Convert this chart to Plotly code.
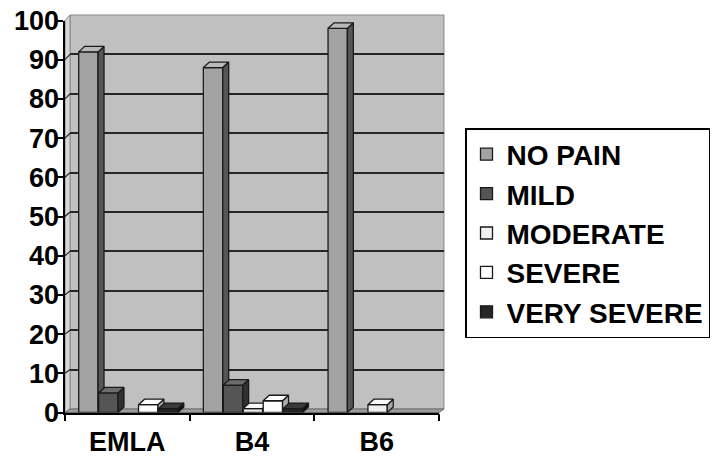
import plotly.graph_objects as go

# Pain scores (% of patients) per anaesthetic group
groups = ["EMLA", "B4", "B6"]
no_pain = [92, 88, 98]
mild = [5, 7, 0]
moderate = [0, 1, 2]
severe = [2, 3, 0]
very_severe = [1, 1, 0]

series_names = ["NO PAIN", "MILD", "MODERATE", "SEVERE", "VERY SEVERE"]
series_values = [no_pain, mild, moderate, severe, very_severe]
y_ticks = list(range(0, 101, 10))

# face colours per series: front, top, side
faces = [
    ("#a3a3a3", "#b9b9b9", "#555555"),
    ("#555555", "#6c6c6c", "#303030"),
    ("#f0f0f0", "#fafafa", "#a5a5a5"),
    ("#ffffff", "#ffffff", "#ababab"),
    ("#262626", "#3a3a3a", "#101010"),
]

W, H = 718, 459
def fx(px):
    return px / W
def fy(py):
    return 1 - py / H

FONT = "Liberation Sans, Arial, sans-serif"
EDGE = "#1a1a1a"
EDGE_W = 1.3

# bar geometry in category units
BAR_W = 0.155
STEP = 0.16
START = -0.39
DX = 0.048          # depth offset to the right (x units)
DY = 1.4            # depth offset upward (y units)

front_xdom = [fx(65), fx(439)]
front_ydom = [fy(412.5), fy(20.5)]
back_xdom = [fx(70), fx(444)]
back_ydom = [fy(409), fy(15)]

fig = go.Figure()

# placeholder so the back-wall subplot is always built
fig.add_trace(go.Scatter(x=[None], y=[None], xaxis="x", yaxis="y",
                         showlegend=False, hoverinfo="skip"))

for s, (name, vals) in enumerate(zip(series_names, series_values)):
    front, top, side = faces[s]
    xa = "x2" if s == 0 else "x" + str(s + 2)
    ya = "y2" if s == 0 else "y" + str(s + 2)
    off = START + STEP * s

    fig.add_trace(go.Bar(
        x=list(range(len(groups))),
        y=[v if v > 0 else None for v in vals],
        offset=off, width=BAR_W,
        marker=dict(color=front, line=dict(color=EDGE, width=EDGE_W)),
        name=name, legendgroup=name,
        xaxis=xa, yaxis=ya, hoverinfo="skip",
    ))

    sx, sy, tx, ty = [], [], [], []
    for c, v in enumerate(vals):
        if v <= 0:
            continue
        left = c + off
        right = left + BAR_W
        sx += [right, right + DX, right + DX, right, right, None]
        sy += [0, DY, v + DY, v, 0, None]
        tx += [left, right, right + DX, left + DX, left, None]
        ty += [v, v, v + DY, v + DY, v, None]

    fig.add_trace(go.Scatter(
        x=sx, y=sy, mode="lines", fill="toself", fillcolor=side,
        line=dict(color=EDGE, width=EDGE_W), showlegend=False,
        legendgroup=name, xaxis=xa, yaxis=ya, hoverinfo="skip",
    ))
    fig.add_trace(go.Scatter(
        x=tx, y=ty, mode="lines", fill="toself", fillcolor=top,
        line=dict(color=EDGE, width=EDGE_W), showlegend=False,
        legendgroup=name, xaxis=xa, yaxis=ya, hoverinfo="skip",
    ))

tickfont = dict(family=FONT, size=27, color="black", weight="bold")

layout = dict(
    width=W, height=H,
    margin=dict(l=0, r=0, t=0, b=0, autoexpand=False),
    paper_bgcolor="white",
    plot_bgcolor="rgba(0,0,0,0)",
    barmode="overlay",
    showlegend=True,
    font=dict(family=FONT, size=27, color="black", weight="bold"),
    # back wall carrying the gridlines
    xaxis=dict(domain=back_xdom, range=[0, 1], anchor="y",
               showgrid=False, showticklabels=False, ticks="",
               zeroline=False, showline=False),
    yaxis=dict(domain=back_ydom, range=[0, 100], anchor="x",
               tickvals=y_ticks[1:-1], showgrid=True, gridcolor="#262626",
               gridwidth=1.6, showticklabels=False, ticks="",
               zeroline=False, showline=False),
    # front plane with the axes and bars
    xaxis2=dict(domain=front_xdom, range=[-0.5, len(groups) - 0.5],
                anchor="y2", tickvals=list(range(len(groups))),
                ticktext=groups, ticks="", showgrid=False, zeroline=False,
                showline=True, linecolor="black", linewidth=1.5,
                ticklabelstandoff=4, tickfont=tickfont,
                minor=dict(tickvals=[i - 0.5 for i in range(len(groups) + 1)],
                           ticks="outside", ticklen=7, tickcolor="black",
                           tickwidth=1.5)),
    yaxis2=dict(domain=front_ydom, range=[0, 100], anchor="x2",
                tickvals=y_ticks, ticks="outside", ticklen=8,
                tickcolor="black", tickwidth=1.5, showgrid=False,
                zeroline=False, showline=True, linecolor="black",
                linewidth=1.5, showticklabels=False),
    legend=dict(
        x=fx(465), y=fy(128), xanchor="left", yanchor="top",
        bgcolor="white", bordercolor="black", borderwidth=1.5,
        font=dict(family=FONT, size=28, color="black", weight="bold"),
        tracegroupgap=8, traceorder="normal",
    ),
)

for s in range(1, len(series_names)):
    k = str(s + 2)
    layout["xaxis" + k] = dict(overlaying="x2", range=[-0.5, len(groups) - 0.5],
                               visible=False, anchor="y" + k)
    layout["yaxis" + k] = dict(overlaying="y2", range=[0, 100],
                               visible=False, anchor="x" + k)

# value labels for the front y axis, set a little closer to the tick marks
layout["yaxis7"] = dict(overlaying="y2", anchor="x2", range=[0, 100],
                        tickvals=y_ticks, ticks="", showgrid=False,
                        zeroline=False, showline=False,
                        ticklabelstandoff=5, tickfont=tickfont)

fig.update_layout(**layout)
fig.add_trace(go.Scatter(x=[None], y=[None], xaxis="x2", yaxis="y7",
                         showlegend=False, hoverinfo="skip"))

# back wall, side wall and floor
fig.add_shape(type="rect", xref="paper", yref="paper", layer="below",
              x0=back_xdom[0], x1=back_xdom[1], y0=back_ydom[0], y1=back_ydom[1],
              fillcolor="#c0c0c0", line=dict(color="#8a8a8a", width=1))
fig.add_shape(type="path", xref="paper", yref="paper", layer="below",
              path=(f"M{front_xdom[0]},{front_ydom[0]} L{back_xdom[0]},{back_ydom[0]} "
                    f"L{back_xdom[0]},{back_ydom[1]} L{front_xdom[0]},{front_ydom[1]} Z"),
              fillcolor="#d6d6d6", line=dict(color="#8a8a8a", width=1))
fig.add_shape(type="path", xref="paper", yref="paper", layer="below",
              path=(f"M{front_xdom[0]},{front_ydom[0]} L{back_xdom[0]},{back_ydom[0]} "
                    f"L{back_xdom[1]},{back_ydom[0]} L{front_xdom[1]},{front_ydom[0]} Z"),
              fillcolor="#9c9c9c", line=dict(color="#6a6a6a", width=1))

# side-wall gridlines joining each front tick to the back-wall gridline
def dom_y(dom, v):
    return dom[0] + (dom[1] - dom[0]) * v / 100

side_path = " ".join(
    f"M{front_xdom[0]},{dom_y(front_ydom, v)} L{back_xdom[0]},{dom_y(back_ydom, v)}"
    for v in y_ticks[1:-1]
)
fig.add_shape(type="path", xref="paper", yref="paper", layer="below",
              path=side_path, line=dict(color="#262626", width=1.2))

fig.write_html("out.html")
